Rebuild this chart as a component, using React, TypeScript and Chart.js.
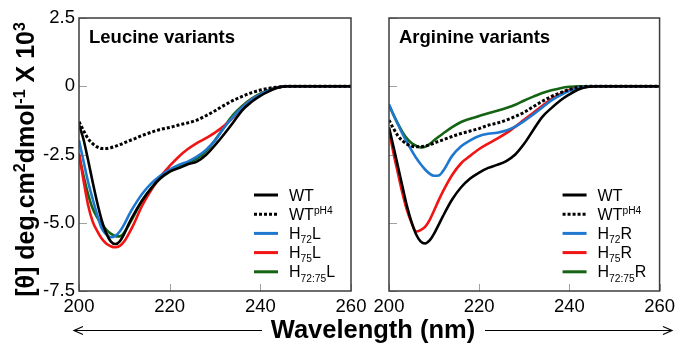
import React, { useEffect, useRef } from 'react';
import { Chart, registerables } from 'chart.js';

Chart.register(...registerables);

// ---------- data ----------
const wavelengths = [200, 201, 202, 203, 204, 205, 206, 207, 208, 209, 210, 211, 212, 214, 216, 218, 220, 222, 224, 226, 228, 230, 232, 234, 236, 238, 240, 242, 244, 246, 248, 250, 255, 260];

// Leucine variants
const leuWT = [-1.40, -1.95, -2.70, -3.50, -4.25, -4.90, -5.38, -5.68, -5.78, -5.68, -5.40, -5.03, -4.72, -4.17, -3.72, -3.36, -3.13, -3.00, -2.86, -2.76, -2.52, -2.16, -1.76, -1.33, -0.88, -0.58, -0.35, -0.18, -0.05, 0, 0, 0, 0, 0];
const leuWTpH4 = [-1.30, -1.62, -1.92, -2.10, -2.22, -2.28, -2.28, -2.25, -2.20, -2.14, -2.07, -2.00, -1.94, -1.80, -1.68, -1.58, -1.51, -1.42, -1.34, -1.24, -1.08, -0.90, -0.70, -0.52, -0.37, -0.24, -0.14, -0.07, -0.03, 0, 0, 0, 0, 0];
const leuH72L = [-1.98, -2.75, -3.50, -4.12, -4.70, -5.20, -5.42, -5.53, -5.48, -5.32, -5.05, -4.72, -4.43, -3.93, -3.55, -3.27, -3.05, -2.88, -2.76, -2.58, -2.33, -1.98, -1.52, -1.12, -0.78, -0.50, -0.30, -0.14, -0.04, 0, 0, 0, 0, 0];
const leuH75L = [-2.46, -3.45, -4.35, -4.95, -5.30, -5.58, -5.76, -5.86, -5.90, -5.85, -5.68, -5.40, -5.08, -4.35, -3.78, -3.30, -2.92, -2.58, -2.30, -2.08, -1.90, -1.70, -1.45, -1.15, -0.78, -0.50, -0.30, -0.14, -0.04, 0, 0, 0, 0, 0];
const leuH7275L = [-2.52, -3.28, -3.95, -4.47, -4.80, -5.05, -5.25, -5.40, -5.49, -5.50, -5.35, -5.08, -4.78, -4.17, -3.72, -3.37, -3.13, -2.93, -2.80, -2.65, -2.38, -1.98, -1.50, -1.05, -0.72, -0.46, -0.27, -0.13, -0.04, 0, 0, 0, 0, 0];

// Arginine variants
const argWT = [-1.50, -2.22, -2.95, -3.68, -4.40, -4.98, -5.42, -5.68, -5.76, -5.65, -5.40, -5.08, -4.75, -4.15, -3.70, -3.38, -3.16, -2.99, -2.88, -2.74, -2.50, -2.10, -1.60, -1.12, -0.80, -0.52, -0.30, -0.12, -0.03, 0, 0, 0, 0, 0];
const argWTpH4 = [-1.24, -1.55, -1.82, -2.00, -2.12, -2.19, -2.22, -2.22, -2.19, -2.15, -2.08, -2.02, -1.96, -1.84, -1.73, -1.64, -1.55, -1.43, -1.35, -1.24, -1.11, -0.95, -0.75, -0.55, -0.38, -0.24, -0.12, -0.04, 0, 0, 0, 0, 0, 0];
const argH72R = [-0.66, -1.05, -1.40, -1.75, -2.05, -2.35, -2.62, -2.85, -3.05, -3.20, -3.28, -3.27, -3.10, -2.55, -2.20, -1.98, -1.82, -1.74, -1.70, -1.62, -1.48, -1.27, -1.03, -0.78, -0.52, -0.33, -0.17, -0.06, -0.01, 0, 0, 0, 0, 0];
const argH75R = [-1.61, -2.45, -3.20, -3.93, -4.55, -5.00, -5.32, -5.27, -5.15, -4.90, -4.55, -4.18, -3.84, -3.25, -2.82, -2.55, -2.30, -2.10, -1.92, -1.72, -1.48, -1.22, -0.97, -0.72, -0.47, -0.28, -0.14, -0.06, -0.02, 0, 0, 0, 0, 0];
const argH7275R = [-0.70, -1.05, -1.38, -1.68, -1.92, -2.08, -2.18, -2.24, -2.22, -2.12, -1.98, -1.85, -1.73, -1.50, -1.31, -1.19, -1.09, -0.99, -0.90, -0.80, -0.68, -0.52, -0.38, -0.25, -0.15, -0.07, -0.02, 0, 0, 0, 0, 0, 0, 0];

const leucineLabels = ['WT', 'WT^{pH4}', 'H_{72}L', 'H_{75}L', 'H_{72:75}L'];
const arginineLabels = ['WT', 'WT^{pH4}', 'H_{72}R', 'H_{75}R', 'H_{72:75}R'];

const xTickValues = [200, 220, 240, 260];
const yTickValues = [2.5, 0, -2.5, -5.0, -7.5];

const panelTitles = ['Leucine variants', 'Arginine variants'];
const yAxisTitle = '[\u03b8] deg.cm^{2}dmol^{-1} X 10^{3}';
const xAxisTitle = 'Wavelength (nm)';

// ---------- styles ----------
const FONT = "'Liberation Sans', Arial, Helvetica, sans-serif";
const seriesColors = ['#000000', '#000000', '#1f78d0', '#f01414', '#146414'];
const seriesDash: number[][] = [[], [3, 2], [], [], []];

type Seg = { t: string; k: number };
function parseRich(s: string): Seg[] {
  const out: Seg[] = [];
  const re = /([\^_])\{([^}]*)\}/g;
  let last = 0;
  let m: RegExpExecArray | null;
  while ((m = re.exec(s))) {
    if (m.index > last) out.push({ t: s.slice(last, m.index), k: 0 });
    out.push({ t: m[2], k: m[1] === '^' ? 1 : 2 });
    last = re.lastIndex;
  }
  if (last < s.length) out.push({ t: s.slice(last), k: 0 });
  return out;
}
function segFont(k: number, size: number, weight: string) {
  const fs = k ? size * 0.64 : size;
  return `${weight} ${fs}px ${FONT}`;
}
function richWidth(ctx: CanvasRenderingContext2D, segs: Seg[], size: number, weight: string) {
  let w = 0;
  for (const s of segs) {
    ctx.font = segFont(s.k, size, weight);
    w += ctx.measureText(s.t).width;
  }
  return w;
}
function drawRich(ctx: CanvasRenderingContext2D, segs: Seg[], x: number, y: number, size: number, weight: string) {
  let cx = x;
  ctx.textAlign = 'left';
  ctx.textBaseline = 'alphabetic';
  for (const s of segs) {
    ctx.font = segFont(s.k, size, weight);
    const dy = s.k === 1 ? -size * 0.36 : s.k === 2 ? size * 0.27 : 0;
    ctx.fillText(s.t, cx, y + dy);
    cx += ctx.measureText(s.t).width;
  }
}

function makePanelPlugin(title: string, labels: string[], extras: boolean) {
  return {
    id: 'panelDeco',
    beforeDatasetsDraw(chart: any) {
      const { ctx, chartArea: a, scales } = chart;
      ctx.save();
      ctx.strokeStyle = '#a0a0a0';
      ctx.lineWidth = 1;
      ctx.beginPath();
      for (const v of yTickValues) {
        const py = Math.round(scales.y.getPixelForValue(v)) + 0.5;
        ctx.moveTo(a.left, py);
        ctx.lineTo(a.left + 8, py);
      }
      for (const v of xTickValues) {
        const px = Math.round(scales.x.getPixelForValue(v)) + 0.5;
        ctx.moveTo(px, a.bottom);
        ctx.lineTo(px, a.bottom - 7);
      }
      ctx.stroke();
      ctx.restore();
    },
    afterDatasetsDraw(chart: any) {
      const { ctx, chartArea: a } = chart;
      ctx.save();
      // frame
      ctx.strokeStyle = '#3c3c3c';
      ctx.lineWidth = 1.5;
      ctx.strokeRect(a.left, a.top, a.right - a.left, a.bottom - a.top);
      // panel title
      ctx.fillStyle = '#000';
      ctx.font = `bold 18.5px ${FONT}`;
      ctx.textAlign = 'left';
      ctx.textBaseline = 'alphabetic';
      ctx.fillText(title, a.left + 10, a.top + 24.5);
      // legend
      labels.forEach((lab, i) => {
        const ry = a.bottom - 96 + i * 19.2;
        ctx.beginPath();
        ctx.strokeStyle = seriesColors[i];
        ctx.lineWidth = 3;
        ctx.setLineDash(seriesDash[i]);
        ctx.moveTo(a.right - 97, ry);
        ctx.lineTo(a.right - 73, ry);
        ctx.stroke();
        ctx.setLineDash([]);
        ctx.fillStyle = '#000';
        drawRich(ctx, parseRich(lab), a.right - 62, ry + 5.5, 16, 'normal');
      });
      if (extras) {
        // y title
        const segs = parseRich(yAxisTitle);
        ctx.save();
        ctx.translate(33.5, 159.5);
        ctx.rotate(-Math.PI / 2);
        const w = richWidth(ctx, segs, 25, 'bold');
        ctx.fillStyle = '#000';
        drawRich(ctx, segs, -w / 2, 0, 25, 'bold');
        ctx.restore();
        // x title
        ctx.fillStyle = '#000';
        ctx.font = `bold 25.5px ${FONT}`;
        ctx.textAlign = 'center';
        ctx.textBaseline = 'alphabetic';
        ctx.fillText(xAxisTitle, 373, 338);
        // arrows
        ctx.strokeStyle = '#000';
        ctx.lineWidth = 1.2;
        ctx.beginPath();
        ctx.moveTo(262, 330.5);
        ctx.lineTo(74, 330.5);
        ctx.moveTo(83, 326.5);
        ctx.lineTo(74, 330.5);
        ctx.lineTo(83, 334.5);
        ctx.moveTo(485, 330.5);
        ctx.lineTo(672, 330.5);
        ctx.moveTo(663, 326.5);
        ctx.lineTo(672, 330.5);
        ctx.lineTo(663, 334.5);
        ctx.stroke();
      }
      ctx.restore();
    },
  };
}

function makeConfig(isLeft: boolean): any {
  const values = isLeft
    ? [leuWT, leuWTpH4, leuH72L, leuH75L, leuH7275L]
    : [argWT, argWTpH4, argH72R, argH75R, argH7275R];
  const labels = isLeft ? leucineLabels : arginineLabels;
  const tickFont = { family: FONT, size: 18.5 };
  return {
    type: 'line',
    data: {
      datasets: values.map((vals, i) => ({
        label: labels[i].replace(/[\^_{}]/g, ''),
        data: wavelengths.map((w, j) => ({ x: w, y: vals[j] })),
        borderColor: seriesColors[i],
        borderWidth: i === 1 ? 3 : 2.6,
        borderDash: seriesDash[i],
        pointRadius: 0,
        fill: false,
        cubicInterpolationMode: 'monotone',
      })),
    },
    options: {
      animation: false,
      responsive: false,
      devicePixelRatio: 1,
      events: [],
      layout: {
        padding: isLeft
          ? { left: 0, right: 329, top: 18, bottom: 0 }
          : { left: 389, right: 16.5, top: 18, bottom: 0 },
      },
      plugins: { legend: { display: false }, tooltip: { enabled: false }, title: { display: false } },
      scales: {
        x: {
          type: 'linear',
          position: 'bottom',
          min: 200,
          max: 260,
          grid: { display: false, drawTicks: false },
          border: { display: false },
          afterBuildTicks: (s: any) => { s.ticks = xTickValues.map((v) => ({ value: v })); },
          ticks: { autoSkip: false, maxRotation: 0, padding: 5, color: '#000', font: tickFont },
          afterFit: (s: any) => { s.height = 52; },
        },
        y: {
          type: 'linear',
          display: isLeft,
          min: -7.5,
          max: 2.5,
          grid: { display: false, drawTicks: false },
          border: { display: false },
          afterBuildTicks: (s: any) => { s.ticks = yTickValues.map((v) => ({ value: v })); },
          ticks: {
            padding: 4,
            color: '#000',
            font: tickFont,
            callback: (v: any) => (Number(v) === 0 ? '0' : Number(v).toFixed(1)),
          },
          afterFit: (s: any) => { s.width = isLeft ? 79 : 0; },
        },
      },
    },
    plugins: [makePanelPlugin(isLeft ? panelTitles[0] : panelTitles[1], labels, isLeft)],
  };
}

export default function App() {
  const leftRef = useRef<HTMLCanvasElement>(null);
  const rightRef = useRef<HTMLCanvasElement>(null);
  useEffect(() => {
    const c1 = new Chart(leftRef.current as HTMLCanvasElement, makeConfig(true));
    const c2 = new Chart(rightRef.current as HTMLCanvasElement, makeConfig(false));
    return () => {
      c1.destroy();
      c2.destroy();
    };
  }, []);
  const cs: React.CSSProperties = { position: 'absolute', left: 0, top: 0, width: 680, height: 343 };
  return (
    <div style={{ position: 'absolute', left: 0, top: 0, width: 680, height: 343, background: '#fff', overflow: 'hidden' }}>
      <canvas ref={leftRef} width={680} height={343} style={cs} />
      <canvas ref={rightRef} width={680} height={343} style={cs} />
    </div>
  );
}
